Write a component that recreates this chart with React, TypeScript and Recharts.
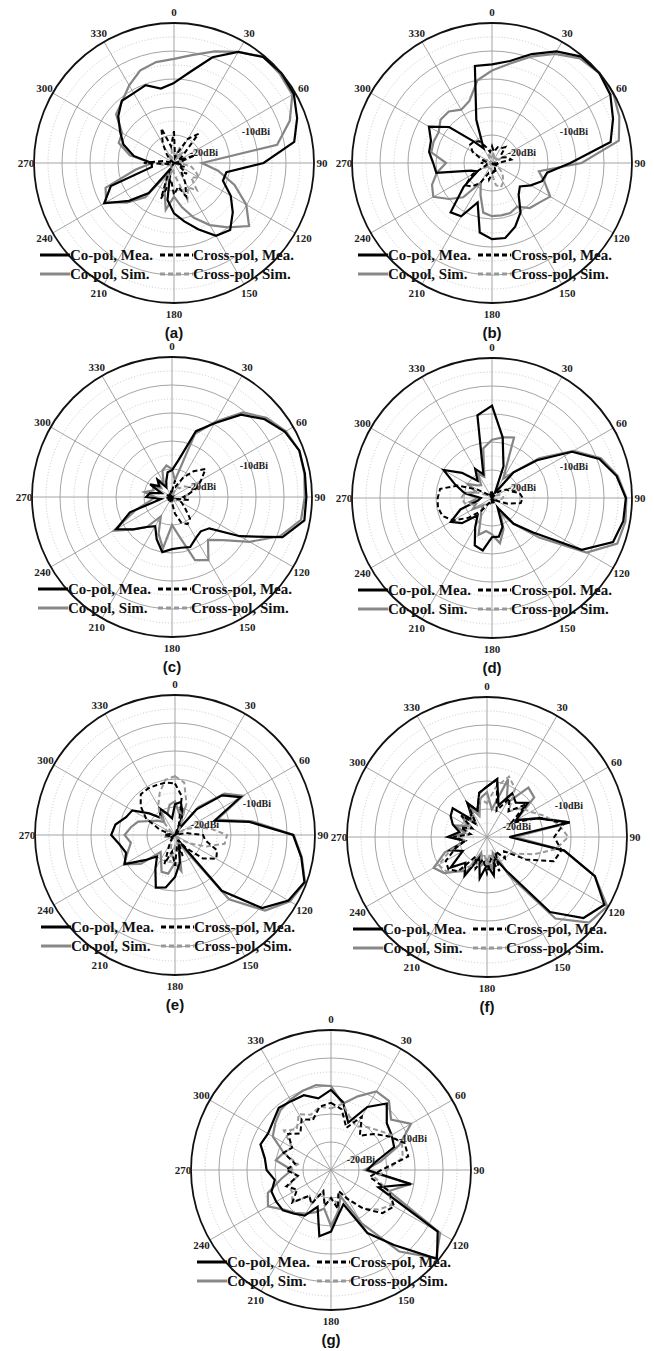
import React from "react";
import {
  RadarChart,
  Radar,
  PolarGrid,
  PolarAngleAxis,
  PolarRadiusAxis,
} from "recharts";

// angle categories, degrees clockwise from top
const ANGLES = [
  0, 10, 20, 30, 40, 50, 60, 70, 80, 90, 100, 110, 120, 130, 140, 150, 160, 170,
  180, 190, 200, 210, 220, 230, 240, 250, 260, 270, 280, 290, 300, 310, 320, 330, 340, 350,
];
const R_MIN = -25;
const R_MAX = 0;
const MAJOR_RINGS = [-20, -15, -10, -5];
const MINOR_RINGS = [-22.5, -17.5, -12.5, -7.5, -2.5];
const SPOKES = [0, 30, 60, 90, 120, 150, 180, 210, 240, 270, 300, 330];
const RADIUS_LABELS = [-20, -10];

// (a)
const A_CO_MEA = [-10.7, -8.5, -4.9, -2.1, -0.3, 0, -0.3, -1.6, -3.2, -9, -15.5, -15.7, -13.3, -11.3, -9.4, -10, -12.4, -14.4, -16, -18.3, -23, -24, -18, -14.5, -10.6, -13, -21, -21, -17.7, -15.4, -13.9, -12, -10.5, -10.6, -10.2, -11.5];
const A_CO_SIM = [-6.4, -5.4, -3.8, -2.1, -0.2, -0.3, -0.6, -3, -6.3, -20, -17, -13.5, -10.1, -7.5, -10, -12.2, -14.6, -17, -19, -16.5, -20, -23, -17, -14, -11, -12, -18, -21, -17, -14.5, -14.3, -11.5, -10.6, -9, -7.4, -6.7];
const A_X_MEA = [-19.3, -24, -23, -20, -18.2, -23, -24, -21, -24, -25, -24, -23, -24, -22, -23, -21, -18.6, -20.7, -19.3, -22, -18.2, -23, -25, -25, -25, -25, -24, -19.6, -23, -25, -25, -24, -23, -21, -18.4, -22];
const A_X_SIM = [-23, -24, -22, -24, -22.5, -24, -23, -24, -23, -24, -22, -21, -19.8, -21, -18.6, -20, -18, -22, -23, -24, -22, -24, -25, -24, -25, -24, -23, -22, -24, -25, -24, -25, -24, -23, -24, -22.5];

// (b)
const B_CO_MEA = [-7.4, -6.5, -4.3, -2, -0.2, 0, -0.6, -2, -3.5, -11, -15, -15.5, -17, -18.5, -17.6, -14.8, -12.9, -11.4, -11.4, -12.4, -17.5, -14, -13.5, -18.4, -22, -21, -14.9, -14.5, -13.6, -13.4, -12, -15, -20, -22, -16.8, -7.4];
const B_CO_SIM = [-8.5, -7, -4.8, -2.5, -0.6, 0, 0, -0.8, -2, -9, -16.5, -15, -13, -14, -14.5, -16, -15.5, -15.5, -15.5, -16, -19, -21, -17, -15, -12.9, -13.6, -15, -16.8, -14, -13.9, -14, -13, -13, -14, -13.2, -10];
const B_X_MEA = [-22, -23, -22, -22, -21.3, -23, -23, -22, -21.5, -24, -24, -25, -24, -25, -24, -24, -23, -23.5, -23, -22, -23, -21, -19.5, -18.8, -21, -24, -24, -23, -24, -23, -21, -19.9, -20, -20.5, -22, -23];
const B_X_SIM = [-24, -23, -24, -23.5, -24, -24, -23, -24, -24, -25, -24, -25, -24, -23, -22, -21, -20.4, -21, -23, -24, -24, -25, -24, -24, -23, -24, -25, -24, -24, -23, -24, -25, -24, -24, -23, -24];

// (c)
const C_CO_MEA = [-20.2, -18.3, -12.5, -9.8, -5.8, -3.4, -1.7, -0.8, -0.9, -1, -1, -4, -11, -16.3, -17, -16.5, -15.5, -15.8, -15.7, -15, -17, -19, -18, -16, -13.5, -17, -23, -20.4, -21, -23, -20.5, -22, -21, -23, -22, -20.5];
const C_CO_SIM = [-20, -22, -13, -9.5, -5.3, -3, -1.5, -0.8, -1, -1.3, -1.6, -4.5, -9, -13, -15, -12, -13, -18, -20, -15.7, -18, -21, -18, -16, -13, -18, -21, -22, -20, -21.5, -21, -22.5, -21, -22, -20, -19.3];
const C_X_MEA = [-24, -22, -23, -21, -19, -17.2, -19, -20.3, -22, -23, -22, -24, -23, -22, -20, -19.4, -20.1, -22, -24, -25, -24, -25, -25, -24, -25, -25, -24, -25, -25, -24, -25, -25, -24, -25, -25, -24];
const C_X_SIM = [-24, -25, -24, -23, -23, -22, -21.5, -21, -22, -23, -22.5, -23, -24, -24, -25, -24, -25, -25, -24, -25, -25, -24, -25, -25, -24, -25, -25, -24, -25, -25, -24, -25, -25, -24, -25, -25];

// (d)
const D_CO_MEA = [-8.5, -14, -19, -24, -19, -14.5, -8.5, -4.6, -2.4, -1.1, -1.2, -2, -6.5, -15.4, -19, -23, -19.5, -18, -18, -15.5, -16, -19, -21, -18, -16.5, -19, -22.5, -23, -20, -18, -15, -18, -21, -19, -20.5, -10];
const D_CO_SIM = [-14.6, -14, -13.5, -21, -19, -14, -8.2, -4.3, -2.2, -1, -0.8, -1.2, -5.5, -14, -19, -22, -19, -16.8, -18.5, -19, -18, -21, -22, -23, -21, -22, -21, -22.5, -20, -22, -20, -21.5, -22, -20, -21, -16];
const D_X_MEA = [-24, -25, -24, -25, -24, -23, -22, -21.5, -20, -19.5, -19.8, -22, -24, -25, -24, -25, -24, -25, -24, -25, -24, -24, -22, -19.5, -17, -15.6, -15.2, -15.3, -15.6, -18.5, -22, -24, -25, -24, -25, -24];
const D_X_SIM = [-24, -25, -24, -25, -24, -25, -24, -23.5, -23, -23, -23.5, -24, -25, -24, -25, -24, -25, -24, -25, -24, -25, -24, -23.5, -23, -22, -21.5, -20, -19.5, -20, -22, -24, -25, -24, -25, -24, -25];

// (e)
const E_CO_MEA = [-19.5, -19, -21, -24, -19, -14, -11.5, -17.5, -11.5, -3.9, -2.1, -0.4, -1.6, -4.7, -12, -24, -23, -20, -17.5, -15.5, -15, -18, -20, -18, -14.6, -15.7, -15, -13.6, -14.2, -15.7, -16.2, -19, -21, -19.5, -21, -22];
const E_CO_SIM = [-19, -21, -20, -24, -18.5, -13.5, -11, -17, -11, -3.8, -2, -0.3, -1.3, -4, -10, -23, -23, -18.5, -20, -18, -18, -20, -21, -17, -14.5, -16, -17, -16, -17, -18, -20, -21, -22, -20, -21, -19.5];
const E_X_MEA = [-15.8, -18, -23, -25, -24, -25, -24, -25, -23, -20, -19.5, -17, -16.5, -18.5, -22, -24, -21, -23, -19.5, -22, -19.5, -23, -24, -25, -24, -25, -24, -23, -24, -22, -19, -17, -15.5, -15.4, -15.5, -15.5];
const E_X_SIM = [-14.5, -15.5, -19, -23, -24, -25, -23, -21, -18.5, -15.7, -16, -19, -22, -24, -25, -23, -24, -22, -23, -20, -23, -24, -25, -24, -25, -24, -23, -24, -25, -24, -23, -24, -21, -19, -17, -15];

// (f)
const F_CO_MEA = [-16, -14.5, -19, -16, -17, -15.5, -19, -15.3, -10, -21, -11, -4.5, -0.8, -2.5, -7.5, -18, -21, -18, -20, -17.5, -21, -17, -19, -16.5, -20, -18, -21, -18, -20, -18.5, -17.5, -17, -21, -18, -20, -17];
const F_CO_SIM = [-17, -20, -14, -18, -13.5, -14, -19, -15, -10, -20, -11, -4.5, -0.2, -1.2, -6, -17, -22, -19, -21, -20, -22, -18, -17, -15, -14, -17, -21, -18.5, -21, -19, -21, -19, -22, -18.5, -21, -18];
const F_X_MEA = [-16, -14.5, -20, -17, -19, -16, -20, -15, -11, -13, -11.5, -12.3, -17, -21, -20, -22, -18.5, -21, -18.5, -21, -19, -21, -17, -16, -16.5, -19, -21, -19, -22, -20, -22, -19, -22, -18, -20, -17];
const F_X_SIM = [-19, -16, -13.5, -15, -19, -17, -16, -14, -12, -10.5, -12.5, -16, -19, -21, -20, -22, -20, -22, -20, -22, -20, -19, -17, -15.5, -15, -18, -21, -20, -22, -20.5, -22, -20, -21, -19, -21, -18];

// (g)
const G_CO_MEA = [-10.7, -12.7, -16, -12, -9.5, -12, -12.5, -13, -17, -18.5, -10.5, -16, -3, -0.3, -7.5, -12, -18.5, -17, -14, -13, -18, -15.6, -14.8, -13.8, -13.7, -13.7, -14.8, -13.5, -13, -11.6, -12, -11.5, -10.5, -10.8, -10.8, -12];
const G_CO_SIM = [-10, -13, -11, -8.8, -8.9, -11, -8.5, -12, -16, -19, -10.5, -14, -2.5, -0.5, -6, -14, -20, -17.5, -15, -18, -17, -16, -15, -14, -12, -13, -16, -18, -15, -16, -13, -12, -11, -10.5, -10, -9.6];
const G_X_MEA = [-13, -14, -17, -14, -17, -15, -13, -11, -11, -16, -18, -14, -12, -13, -16, -19, -21, -18, -20, -18.5, -21, -18, -19, -16, -18, -16.5, -19, -17, -18.5, -16, -17, -15, -16.5, -14.5, -15.5, -13.5];
const G_X_SIM = [-14, -13, -15, -16, -15, -14, -12.5, -11.5, -12, -15, -17, -14, -12.5, -14, -16, -19, -21, -19, -20, -18.5, -21, -18, -19, -16, -17, -17, -19, -17.5, -19, -16, -17, -14, -15.5, -13.5, -14.5, -13.5];

const S = 340;
const R = 140;
const SERIF = "'Liberation Serif', 'Times New Roman', serif";

type PanelProps = {
  tag: string;
  cx: number;
  cy: number;
  sep: string;
  coMea: number[];
  coSim: number[];
  xMea: number[];
  xSim: number[];
};

const ringRadius = (v: number) => ((v - R_MIN) / (R_MAX - R_MIN)) * R;

// angle labels sit a bit further out at top/bottom than at the sides
const AngleTick = (props: any) => {
  const { x, y, payload } = props;
  if (payload.value % 30 !== 0) return <g />;
  const dx = x - S / 2;
  const dy = y - S / 2;
  const d = Math.hypot(dx, dy) || 1;
  const ux = dx / d;
  const uy = dy / d;
  const r = R + 8 + 3 * Math.abs(uy);
  return (
    <text
      x={S / 2 + ux * r}
      y={S / 2 + uy * r}
      textAnchor="middle"
      dominantBaseline="central"
      fontFamily={SERIF}
      fontWeight="bold"
      fontSize={11}
      fill="#222"
    >
      {payload.value}
    </text>
  );
};

const RadiusTick = (props: any) => {
  const { x, y, payload } = props;
  return (
    <text
      x={x + 4}
      y={y}
      textAnchor="middle"
      dominantBaseline="central"
      fontFamily={SERIF}
      fontWeight="bold"
      fontSize={10}
      fill="#222"
    >
      {`${payload.value}dBi`}
    </text>
  );
};

const PanelLegend = ({ sep }: { sep: string }) => {
  const c = S / 2;
  const rows = [
    { y: c + 92, color: "#000", dash: "#000", a: `Co-pol${sep}Mea.`, b: `Cross-pol${sep}Mea.` },
    { y: c + 111, color: "#888", dash: "#999", a: `Co-pol${sep}Sim.`, b: `Cross-pol${sep}Sim.` },
  ];
  return (
    <svg
      width={S}
      height={S}
      style={{ position: "absolute", left: 0, top: 0, pointerEvents: "none" }}
    >
      {rows.map((r) => (
        <g key={r.a}>
          <line x1={c - 134} x2={c - 104} y1={r.y} y2={r.y} stroke={r.color} strokeWidth={3} />
          <text x={c - 104} y={r.y} dominantBaseline="central" fontFamily={SERIF} fontWeight="bold" fontSize={15} fill="#111">
            {r.a}
          </text>
          <line x1={c - 14} x2={c + 19} y1={r.y} y2={r.y} stroke={r.dash} strokeWidth={3} strokeDasharray="5 3" />
          <text x={c + 19} y={r.y} dominantBaseline="central" fontFamily={SERIF} fontWeight="bold" fontSize={15} fill="#111">
            {r.b}
          </text>
        </g>
      ))}
    </svg>
  );
};

const PolarPanel = ({ tag, cx, cy, sep, coMea, coSim, xMea, xSim }: PanelProps) => {
  const data = ANGLES.map((a, i) => ({
    angle: a,
    coMea: coMea[i],
    coSim: coSim[i],
    xMea: xMea[i],
    xSim: xSim[i],
  }));
  return (
    <div style={{ position: "absolute", left: cx - S / 2, top: cy - S / 2, width: S, height: S + 20 }}>
      <RadarChart
        width={S}
        height={S}
        cx={S / 2}
        cy={S / 2}
        outerRadius={R}
        startAngle={90}
        endAngle={-270}
        data={data}
        margin={{ top: 0, right: 0, bottom: 0, left: 0 }}
      >
        <PolarGrid
          gridType="circle"
          polarAngles={SPOKES}
          polarRadius={MINOR_RINGS.map(ringRadius)}
          radialLines={false}
          stroke="#c8c8c8"
          strokeDasharray="1 2"
        />
        <PolarGrid
          gridType="circle"
          polarAngles={SPOKES}
          polarRadius={MAJOR_RINGS.map(ringRadius)}
          stroke="#9a9a9a"
          strokeWidth={0.9}
        />
        <PolarAngleAxis
          dataKey="angle"
          tick={AngleTick}
          tickLine={false}
          tickSize={13}
          axisLineType="circle"
          axisLine={{ stroke: "#111", strokeWidth: 1.8 }}
        />
        <PolarRadiusAxis
          domain={[R_MIN, R_MAX]}
          ticks={RADIUS_LABELS}
          angle={22}
          axisLine={false}
          tickLine={false}
          tick={RadiusTick}
        />
        <Radar dataKey="coSim" stroke="#858585" strokeWidth={2.2} fill="none" fillOpacity={0} dot={false} isAnimationActive={false} />
        <Radar dataKey="coMea" stroke="#000" strokeWidth={2.2} fill="none" fillOpacity={0} dot={false} isAnimationActive={false} />
        <Radar dataKey="xSim" stroke="#999" strokeWidth={2} strokeDasharray="5 3" fill="none" fillOpacity={0} dot={false} isAnimationActive={false} />
        <Radar dataKey="xMea" stroke="#000" strokeWidth={2} strokeDasharray="5 3" fill="none" fillOpacity={0} dot={false} isAnimationActive={false} />
      </RadarChart>
      <PanelLegend sep={sep} />
      <div
        style={{
          position: "absolute",
          left: 0,
          width: S,
          top: S / 2 + 162,
          height: 15,
          lineHeight: "15px",
          textAlign: "center",
          fontFamily: "'Liberation Sans', Arial, sans-serif",
          fontWeight: "bold",
          fontSize: 15,
          color: "#111",
        }}
      >
        ({tag})
      </div>
    </div>
  );
};

export default function App() {
  return (
    <div style={{ position: "absolute", left: 0, top: 0, width: 654, height: 1351, background: "#fff", overflow: "hidden" }}>
      <PolarPanel tag="a" cx={174} cy={163} sep=", " coMea={A_CO_MEA} coSim={A_CO_SIM} xMea={A_X_MEA} xSim={A_X_SIM} />
      <PolarPanel tag="b" cx={492} cy={163} sep=", " coMea={B_CO_MEA} coSim={B_CO_SIM} xMea={B_X_MEA} xSim={B_X_SIM} />
      <PolarPanel tag="c" cx={172} cy={497} sep=", " coMea={C_CO_MEA} coSim={C_CO_SIM} xMea={C_X_MEA} xSim={C_X_SIM} />
      <PolarPanel tag="d" cx={492} cy={498} sep=". " coMea={D_CO_MEA} coSim={D_CO_SIM} xMea={D_X_MEA} xSim={D_X_SIM} />
      <PolarPanel tag="e" cx={175} cy={835} sep=", " coMea={E_CO_MEA} coSim={E_CO_SIM} xMea={E_X_MEA} xSim={E_X_SIM} />
      <PolarPanel tag="f" cx={487} cy={837} sep=", " coMea={F_CO_MEA} coSim={F_CO_SIM} xMea={F_X_MEA} xSim={F_X_SIM} />
      <PolarPanel tag="g" cx={331} cy={1170} sep=", " coMea={G_CO_MEA} coSim={G_CO_SIM} xMea={G_X_MEA} xSim={G_X_SIM} />
    </div>
  );
}
